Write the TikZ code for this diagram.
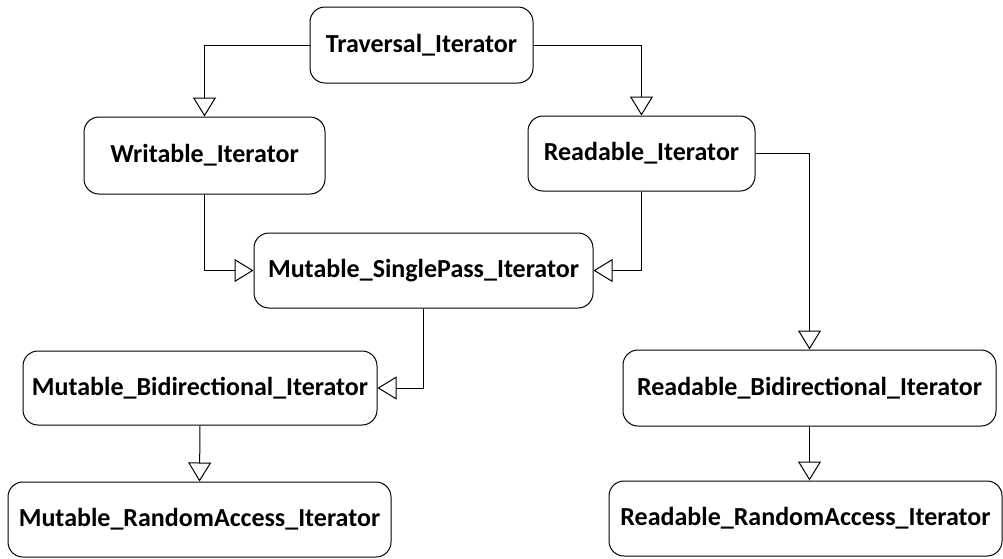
\documentclass[tikz,border=0pt]{standalone}
\usepackage{fontspec}
\setmainfont{Carlito}
\usetikzlibrary{arrows.meta}
\begin{document}
\begin{tikzpicture}[x=1pt,y=-1pt,
  cls/.style={draw, line width=1pt, rounded corners=15pt, inner sep=0pt,
    font=\fontsize{26}{30}\selectfont\bfseries, align=center},
  inh/.style={line width=1pt, -{Triangle[open, length=19pt, width=23pt, fill=white]}}]
\useasboundingbox (0,0) rectangle (1003,558);
% classes, placed by centre with explicit sizes
\node[cls, minimum width=223pt, minimum height=76pt] (trav) at (421.5,45) {Traversal\_Iterator};
\node[cls, minimum width=241pt, minimum height=77pt] (writ) at (204.5,155.5) {Writable\_Iterator};
\node[cls, minimum width=227pt, minimum height=75pt] (read) at (641.5,153.5) {Readable\_Iterator};
\node[cls, minimum width=339pt, minimum height=75pt] (msp) at (423.5,270.5) {Mutable\_SinglePass\_Iterator};
\node[cls, minimum width=354pt, minimum height=74pt] (mbi) at (200,388) {Mutable\_Bidirectional\_Iterator};
\node[cls, minimum width=383pt, minimum height=75pt] (mra) at (199.5,519.5) {Mutable\_RandomAccess\_Iterator};
\node[cls, minimum width=373pt, minimum height=76pt] (rbi) at (809.5,388) {Readable\_Bidirectional\_Iterator};
\node[cls, minimum width=393pt, minimum height=75pt] (rra) at (805.5,518.5) {Readable\_RandomAccess\_Iterator};
% generalisation connectors
\draw[inh] (trav.west) -| (writ.north);
\draw[inh] (trav.east) -| (read.north);
\draw[inh] (writ.south) |- (msp.west);
\draw[inh] (read.south) |- (msp.east);
\draw[inh] (msp.south) |- (mbi.east);
\draw[inh] (mbi.south) -- (mra.north);
\draw[inh] (read.east) -| (rbi.north);
\draw[inh] (rbi.south) -- (rbi.south |- rra.north);
\end{tikzpicture}
\end{document}
